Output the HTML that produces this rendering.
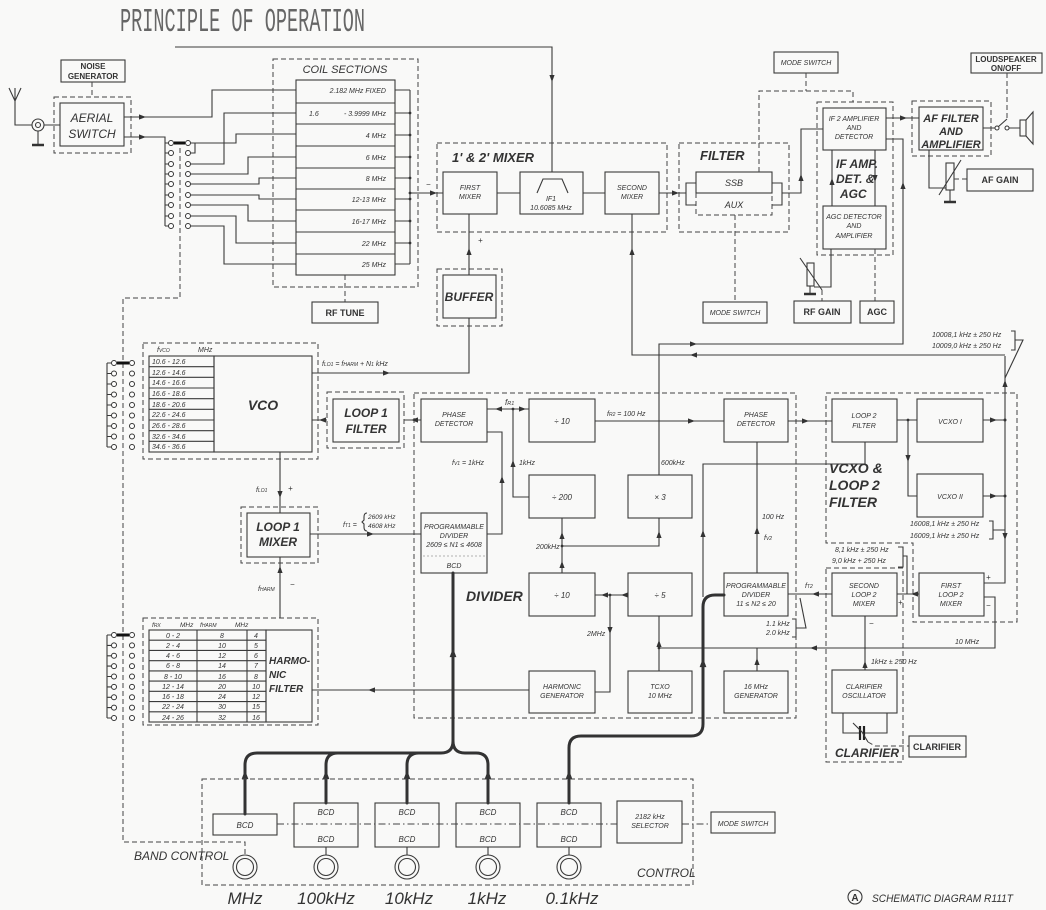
<!DOCTYPE html>
<html><head><meta charset="utf-8"><style>
html,body{margin:0;padding:0;background:#f9f9f8;}
svg{display:block}
svg text{font-family:"Liberation Sans",sans-serif;font-style:italic;fill:#333}
.s{font-size:7px}.m{font-size:8px}.c{text-anchor:middle}.B{font-weight:bold}
.l{stroke:#3a3a3a;stroke-width:1.1;fill:none}
.d{stroke:#444;stroke-width:1;fill:none;stroke-dasharray:5 3}
.dd{stroke:#444;stroke-width:1;fill:none;stroke-dasharray:7 3 1.5 3}
.k{stroke:#333;stroke-width:3;fill:none;stroke-linecap:round}
.o{fill:#fff;stroke:#333;stroke-width:1}
</style></head><body>
<svg width="1046" height="910" viewBox="0 0 1046 910" xmlns="http://www.w3.org/2000/svg">
<defs><path id="a" d="M0,0 L-7,-2.6 L-7,2.6Z" fill="#333"/></defs>

<!-- Title -->
<text x="120" y="31" style="font-family:'Liberation Mono',monospace;font-style:normal;font-size:33px;fill:#666" textLength="245" lengthAdjust="spacingAndGlyphs">PRINCIPLE OF OPERATION</text>
<path class="l" d="M175,47 H552 V172"/>
<use href="#a" transform="translate(552,82) rotate(90)"/>

<!-- Noise generator / aerial -->
<rect class="l" x="61" y="60" width="64" height="22"/>
<text class="m c B" x="93" y="69" style="font-style:normal">NOISE</text>
<text class="m c B" x="93" y="79" style="font-style:normal">GENERATOR</text>
<path class="d" d="M92,82 V97"/>
<rect class="d" x="54" y="97" width="77" height="56"/>
<rect class="l" x="60" y="103" width="64" height="43"/>
<text class="c" x="92" y="122" style="font-size:12px">AERIAL</text>
<text class="c" x="92" y="138" style="font-size:12px">SWITCH</text>
<path class="l" d="M9,88 L15,101 L21,88 M15,88 V125 H32 M44,125 H60"/>
<circle class="l" cx="38" cy="125" r="6"/><circle class="l" cx="38" cy="125" r="2.5"/>
<path class="l" d="M38,131 V145"/><path d="M32,145 H44" stroke="#333" stroke-width="2.5"/>

<path class="l" d="M124,117 H212 V90 H296"/><use href="#a" transform="translate(146,117)"/>
<path class="l" d="M124,137 H165 V226"/><use href="#a" transform="translate(146,137)"/>

<!-- top switch -->
<g>
<path class="l" d="M165,143 H168 M165,153 H168 M165,164 H168 M165,174 H168 M165,184 H168 M165,195 H168 M165,205 H168 M165,216 H168 M165,226 H168"/>
<path d="M174,143 H185" stroke="#111" stroke-width="3"/>
<path class="d" d="M180,148 V298 H123 V842 H245 V855"/>
<g class="o">
<circle cx="171" cy="143" r="2.5"/><circle cx="171" cy="153" r="2.5"/><circle cx="171" cy="164" r="2.5"/><circle cx="171" cy="174" r="2.5"/><circle cx="171" cy="184" r="2.5"/><circle cx="171" cy="195" r="2.5"/><circle cx="171" cy="205" r="2.5"/><circle cx="171" cy="216" r="2.5"/><circle cx="171" cy="226" r="2.5"/>
<circle cx="188" cy="143" r="2.5"/><circle cx="188" cy="153" r="2.5"/><circle cx="188" cy="164" r="2.5"/><circle cx="188" cy="174" r="2.5"/><circle cx="188" cy="184" r="2.5"/><circle cx="188" cy="195" r="2.5"/><circle cx="188" cy="205" r="2.5"/><circle cx="188" cy="216" r="2.5"/><circle cx="188" cy="226" r="2.5"/>
</g>
<path class="l" d="M191,143 H195 V153 H191 M195,143 H236 V134 H296
M191,164 H224 V113 H296
M191,174 H248 V157 H296
M191,184 H259 V178 H296
M191,195 H259 V199 H296
M191,205 H248 V221 H296
M191,216 H236 V243 H296
M191,226 H224 V264 H296"/>
</g>

<!-- Coil sections -->
<rect class="d" x="273" y="59" width="145" height="228"/>
<text class="c" x="345" y="73" style="font-size:11px">COIL SECTIONS</text>
<rect class="l" x="296" y="80" width="99" height="195"/>
<path class="l" d="M296,103 H395 M296,124 H395 M296,146 H395 M296,168 H395 M296,189 H395 M296,210 H395 M296,232 H395 M296,254 H395"/>
<g class="s" style="text-anchor:end">
<text x="386" y="93">2.182  MHz  FIXED</text>
<text x="386" y="116">- 3.9999 MHz</text>
<text x="386" y="138">4  MHz</text>
<text x="386" y="160">6  MHz</text>
<text x="386" y="181">8  MHz</text>
<text x="386" y="202">12-13  MHz</text>
<text x="386" y="224">16-17  MHz</text>
<text x="386" y="246">22  MHz</text>
<text x="386" y="267">25  MHz</text>
</g>
<text class="s" x="309" y="116">1.6</text>
<path class="l" d="M395,90 H410 M395,113 H410 M395,135 H410 M395,157 H410 M395,178 H410 M395,199 H410 M395,221 H410 M395,243 H410 M395,264 H410 M410,90 V264 M410,193 H443"/>
<g fill="#333"><circle cx="410" cy="113" r="1.4"/><circle cx="410" cy="135" r="1.4"/><circle cx="410" cy="157" r="1.4"/><circle cx="410" cy="178" r="1.4"/><circle cx="410" cy="193" r="1.4"/><circle cx="410" cy="199" r="1.4"/><circle cx="410" cy="221" r="1.4"/><circle cx="410" cy="243" r="1.4"/></g>
<use href="#a" transform="translate(437,193)"/>
<text class="m" x="426" y="187">−</text>
<path class="d" d="M345,275 V302"/>
<rect class="l" x="312" y="302" width="66" height="21"/>
<text class="c B" x="345" y="316" style="font-size:9px;font-style:normal">RF TUNE</text>

<!-- Mixer -->
<rect class="d" x="437" y="143" width="230" height="89"/>
<text class="B" x="452" y="162" style="font-size:13px">1' &amp; 2' MIXER</text>
<rect class="l" x="443" y="172" width="54" height="42"/>
<text class="s c" x="470" y="190">FIRST</text><text class="s c" x="470" y="199">MIXER</text>
<path class="l" d="M497,193 H520"/>
<rect class="l" x="520" y="172" width="63" height="42"/>
<path class="l" d="M537,193 L543,179 H562 L568,193"/>
<text class="s c" x="551" y="201">IF1</text><text class="s c" x="551" y="210">10.6085 MHz</text>
<path class="l" d="M583,193 H605"/>
<rect class="l" x="605" y="172" width="54" height="42"/>
<text class="s c" x="632" y="190">SECOND</text><text class="s c" x="632" y="199">MIXER</text>
<path class="l" d="M659,193 H686"/><use href="#a" transform="translate(679,193)"/>

<!-- Buffer -->
<rect class="d" x="437" y="269" width="65" height="57"/>
<rect class="l" x="443" y="275" width="53" height="43"/>
<text class="c B" x="469" y="301" style="font-size:12px">BUFFER</text>
<path class="l" d="M469,275 V214"/><use href="#a" transform="translate(469,248) rotate(-90)"/>
<text class="m" x="478" y="243">+</text>
<path class="l" d="M469,318 V373 H312"/><use href="#a" transform="translate(390,373)"/>
<text class="s" x="322" y="366">f<tspan font-size="5">LO1</tspan> = f<tspan font-size="5">HARM</tspan> + N<tspan font-size="5">1</tspan> kHz</text>

<path class="l" d="M632,214 V355 H1005"/>
<use href="#a" transform="translate(632,248) rotate(-90)"/>
<use href="#a" transform="translate(690,355) rotate(180)"/>
<path class="l" d="M659,475 V344 H903 V139 H886"/>
<use href="#a" transform="translate(697,344)"/>
<use href="#a" transform="translate(903,182) rotate(-90)"/>

<!-- Filter -->
<rect class="d" x="679" y="143" width="110" height="89"/>
<text class="B" x="700" y="160" style="font-size:13px">FILTER</text>
<rect class="l" x="696" y="172" width="76" height="21"/>
<text class="c" x="734" y="186" style="font-size:9px">SSB</text>
<path class="d" d="M696,193 V215 H772 V193"/>
<text class="c" x="734" y="208" style="font-size:9px">AUX</text>
<path class="l" d="M696,183 H686 V205 H696 M772,183 H782 V205 H772 M782,193 H801 V129 H823"/>
<use href="#a" transform="translate(801,174) rotate(-90)"/>
<path class="d" d="M735,215 V302"/>
<rect class="l" x="703" y="302" width="64" height="21"/>
<text class="s c" x="735" y="315">MODE SWITCH</text>

<!-- top mode switch -->
<rect class="l" x="774" y="52" width="64" height="21"/>
<text class="s c" x="806" y="65">MODE SWITCH</text>
<path class="d" d="M806,73 V91 M759,172 V91 H853 V102"/>

<!-- IF AMP -->
<rect class="d" x="817" y="102" width="76" height="153"/>
<rect class="l" x="823" y="108" width="63" height="42"/>
<text class="s c" x="854" y="121">IF 2 AMPLIFIER</text><text class="s c" x="854" y="130">AND</text><text class="s c" x="854" y="139">DETECTOR</text>
<rect class="l" x="823" y="206" width="63" height="43"/>
<text class="s c" x="854" y="219">AGC DETECTOR</text><text class="s c" x="854" y="228">AND</text><text class="s c" x="854" y="238">AMPLIFIER</text>
<path class="l" d="M832,206 V150 M875,150 V206"/>
<use href="#a" transform="translate(832,178) rotate(-90)"/>
<use href="#a" transform="translate(875,182) rotate(90)"/>
<text class="B" x="836" y="168" style="font-size:12px">IF AMP.</text>
<text class="B" x="836" y="183" style="font-size:12px">DET. &amp;</text>
<text class="B" x="840" y="198" style="font-size:12px">AGC</text>

<!-- AF filter -->
<path class="l" d="M886,118 H919"/><use href="#a" transform="translate(907,118)"/>
<rect class="d" x="912" y="101" width="79" height="55"/>
<rect class="l" x="919" y="107" width="64" height="43"/>
<text class="c B" x="951" y="122" style="font-size:11px">AF FILTER</text>
<text class="c B" x="951" y="135" style="font-size:11px">AND</text>
<text class="c B" x="951" y="148" style="font-size:11px">AMPLIFIER</text>
<path class="l" d="M983,128 H995 M1009,128 H1020 M998,127 L1007,119"/>
<circle class="o" cx="997" cy="128" r="2"/><circle class="o" cx="1007" cy="128" r="2"/>
<rect class="l" x="1020" y="120" width="6" height="16"/>
<path class="l" d="M1026,120 L1033,112 V144 L1026,136"/>
<rect class="l" x="971" y="53" width="71" height="20"/>
<text class="c B" x="1006" y="62" style="font-size:8px;font-style:normal">LOUDSPEAKER</text>
<text class="c B" x="1006" y="71" style="font-size:8px;font-style:normal">ON/OFF</text>
<path class="d" d="M1007,73 V120"/>
<path class="l" d="M929,150 V188 H946"/>
<rect class="l" x="946" y="163" width="8" height="27"/>
<path class="l" d="M939,195 L961,160 M950,190 V201"/>
<path d="M944,202 H956" stroke="#333" stroke-width="2.5"/>
<path class="d" d="M954,179 H967"/>
<rect class="l" x="967" y="169" width="66" height="22"/>
<text class="c B" x="1000" y="183" style="font-size:9px;font-style:normal">AF GAIN</text>

<!-- RF gain / AGC -->
<path class="l" d="M831,249 V287 H814"/>
<rect class="l" x="807" y="263" width="7" height="23"/>
<path class="l" d="M800,258 L822,290 M810,286 V293"/>
<path d="M804,294 H816" stroke="#333" stroke-width="2.5"/>
<path class="d" d="M822,290 V301 M875,249 V301"/>
<rect class="l" x="794" y="301" width="57" height="22"/>
<text class="c B" x="822" y="315" style="font-size:9px;font-style:normal">RF GAIN</text>
<rect class="l" x="860" y="301" width="34" height="22"/>
<text class="c B" x="877" y="315" style="font-size:9px;font-style:normal">AGC</text>

<!-- right column -->
<text class="s" x="932" y="337">10008,1 kHz ± 250 Hz</text>
<text class="s" x="932" y="348">10009,0 kHz ± 250 Hz</text>
<path class="l" d="M1011,331 H1015 V350 H1011 M1015,340 H1023 L1005,378"/>
<path class="l" d="M1005,356 V583 H984"/>
<use href="#a" transform="translate(1005,380) rotate(-90)"/>
<use href="#a" transform="translate(1005,540) rotate(90)"/>
<g fill="#333"><circle cx="1005" cy="420" r="1.5"/><circle cx="1005" cy="496" r="1.5"/></g>

<path class="d" d="M826,393 H1017 V622 H913 V543 H826 Z"/>
<rect class="l" x="832" y="399" width="65" height="43"/>
<text class="s c" x="864" y="418">LOOP 2</text><text class="s c" x="864" y="428">FILTER</text>
<rect class="l" x="917" y="399" width="66" height="43"/>
<text class="s c" x="950" y="424">VCXO I</text>
<rect class="l" x="917" y="474" width="66" height="43"/>
<text class="s c" x="950" y="499">VCXO II</text>
<path class="l" d="M897,420 H917 M908,420 V496 H917 M983,420 H1005 M983,496 H1005"/>
<circle cx="908" cy="420" r="1.4" fill="#333"/>
<use href="#a" transform="translate(908,462) rotate(90)"/>
<use href="#a" transform="translate(997,420)"/>
<use href="#a" transform="translate(997,496)"/>
<path class="l" d="M865,442 V464 H703 V597"/>
<use href="#a" transform="translate(703,530) rotate(-90)"/>
<text class="B" x="829" y="473" style="font-size:14px">VCXO &amp;</text>
<text class="B" x="829" y="490" style="font-size:14px">LOOP 2</text>
<text class="B" x="829" y="507" style="font-size:14px">FILTER</text>
<text class="s" x="910" y="526">16008,1 kHz ± 250 Hz</text>
<text class="s" x="910" y="538">16009,1 kHz ± 250 Hz</text>
<path class="l" d="M989,521 H993 V539 H989 M993,530 H1005"/>
<text class="s" x="835" y="552">8,1 kHz ± 250 Hz</text>
<text class="s" x="832" y="563">9,0 kHz + 250 Hz</text>
<path class="l" d="M898,547 H903 V567 H898 M903,556 H907 V594"/>

<rect class="d" x="826" y="568" width="77" height="194"/>
<rect class="l" x="832" y="573" width="65" height="43"/>
<text class="s c" x="864" y="588">SECOND</text><text class="s c" x="864" y="597">LOOP 2</text><text class="s c" x="864" y="606">MIXER</text>
<rect class="l" x="919" y="573" width="65" height="43"/>
<text class="s c" x="951" y="588">FIRST</text><text class="s c" x="951" y="597">LOOP 2</text><text class="s c" x="951" y="606">MIXER</text>
<path class="l" d="M919,594 H897"/><use href="#a" transform="translate(911,594) rotate(180)"/>
<text class="m" x="898" y="605">+</text>
<text class="m" x="986" y="580">+</text>
<text class="m" x="986" y="608">−</text>
<path class="l" d="M984,597 H995 V648 H659"/>
<use href="#a" transform="translate(810,648) rotate(180)"/>
<text class="s" x="955" y="644">10 MHz</text>
<path class="l" d="M832,594 H788"/><use href="#a" transform="translate(812,594) rotate(180)"/>
<text class="s" x="805" y="588">f<tspan font-size="5">T2</tspan></text>
<text class="s" x="766" y="626">1.1 kHz</text><text class="s" x="766" y="635">2.0 kHz</text>
<path class="l" d="M792,619 H796 V637 H792 M796,628 H806 L800,598"/>
<path class="l" d="M865,616 V670"/><use href="#a" transform="translate(865,661) rotate(-90)"/>
<text class="m" x="869" y="626">−</text>
<text class="s" x="871" y="664">1kHz ± 250 Hz</text>
<rect class="l" x="832" y="670" width="65" height="43"/>
<text class="s c" x="864" y="689">CLARIFIER</text><text class="s c" x="864" y="698">OSCILLATOR</text>
<path class="l" d="M843,713 V733 H859 M864,733 H887 V713"/>
<path d="M860,726 V740 M864,726 V740" stroke="#222" stroke-width="2.2"/>
<path class="l" d="M853,723 L862,732 L868,742"/>
<path class="d" d="M868,742 L875,746 H909"/>
<text class="B" x="835" y="757" style="font-size:12px">CLARIFIER</text>
<rect class="l" x="909" y="736" width="57" height="21"/>
<text class="c B" x="937" y="750" style="font-size:9px;font-style:normal">CLARIFIER</text>

<!-- Divider -->
<rect class="d" x="414" y="393" width="382" height="325"/>
<text class="B" x="466" y="601" style="font-size:14px">DIVIDER</text>
<rect class="l" x="421" y="399" width="66" height="43"/>
<text class="s c" x="454" y="417">PHASE</text><text class="s c" x="454" y="426">DETECTOR</text>
<rect class="l" x="529" y="399" width="66" height="43"/>
<text class="m c" x="562" y="424">÷ 10</text>
<rect class="l" x="724" y="399" width="64" height="43"/>
<text class="s c" x="756" y="417">PHASE</text><text class="s c" x="756" y="426">DETECTOR</text>
<rect class="l" x="529" y="475" width="66" height="43"/>
<text class="m c" x="562" y="500">÷ 200</text>
<rect class="l" x="628" y="475" width="64" height="43"/>
<text class="m c" x="660" y="500">× 3</text>
<rect class="l" x="421" y="513" width="66" height="60"/>
<text class="s c" x="454" y="529">PROGRAMMABLE</text><text class="s c" x="454" y="538">DIVIDER</text><text class="s c" x="454" y="547">2609 ≤ N1 ≤ 4608</text>
<path d="M423,556 H485" stroke="#999" stroke-width="0.7" stroke-dasharray="2 2"/>
<text class="s c" x="454" y="568">BCD</text>
<rect class="l" x="529" y="573" width="66" height="43"/>
<text class="m c" x="562" y="598">÷ 10</text>
<rect class="l" x="628" y="573" width="64" height="43"/>
<text class="m c" x="660" y="598">÷ 5</text>
<rect class="l" x="724" y="573" width="64" height="43"/>
<text class="s c" x="756" y="588">PROGRAMMABLE</text><text class="s c" x="756" y="597">DIVIDER</text><text class="s c" x="756" y="606">11 ≤ N2 ≤ 20</text>
<rect class="l" x="529" y="671" width="66" height="42"/>
<text class="s c" x="562" y="689">HARMONIC</text><text class="s c" x="562" y="698">GENERATOR</text>
<rect class="l" x="628" y="671" width="64" height="42"/>
<text class="s c" x="660" y="689">TCXO</text><text class="s c" x="660" y="698">10 MHz</text>
<rect class="l" x="724" y="671" width="64" height="42"/>
<text class="s c" x="756" y="689">16 MHz</text><text class="s c" x="756" y="698">GENERATOR</text>

<path class="l" d="M404,420 H421 M327,420 H312"/>
<use href="#a" transform="translate(411,420) rotate(180)"/>
<use href="#a" transform="translate(319,420) rotate(180)"/>
<path class="l" d="M487,409 H529 M513,409 V497 H529"/>
<use href="#a" transform="translate(495,409) rotate(180)"/>
<use href="#a" transform="translate(526,409)"/>
<use href="#a" transform="translate(513,460) rotate(-90)"/>
<circle cx="513" cy="409" r="1.4" fill="#333"/>
<text class="m" x="505" y="405">f<tspan font-size="5.5">R1</tspan></text>
<text class="s" x="519" y="465">1kHz</text>
<path class="l" d="M487,432 H502 V534 H487"/>
<use href="#a" transform="translate(502,476) rotate(-90)"/>
<text class="s" x="452" y="465">f<tspan font-size="5">V1</tspan> = 1kHz</text>
<path class="l" d="M595,421 H724"/><use href="#a" transform="translate(695,421)"/>
<text class="s" x="607" y="416">f<tspan font-size="5">R2</tspan> = 100 Hz</text>
<text class="s" x="661" y="465">600kHz</text>
<path class="l" d="M788,421 H832"/><use href="#a" transform="translate(809,421)"/>
<path class="l" d="M757,442 V573"/><use href="#a" transform="translate(757,527) rotate(-90)"/>
<text class="s" x="762" y="519">100 Hz</text><text class="s" x="764" y="540">f<tspan font-size="5">V2</tspan></text>
<path class="l" d="M562,518 V573 M562,546 H659 V518"/>
<use href="#a" transform="translate(562,532) rotate(-90)"/>
<use href="#a" transform="translate(562,561) rotate(-90)"/>
<use href="#a" transform="translate(659,531) rotate(-90)"/>
<circle cx="562" cy="546" r="1.4" fill="#333"/>
<text class="s" x="536" y="549">200kHz</text>
<path class="l" d="M628,595 H595 M610,595 V692 H595"/>
<use href="#a" transform="translate(601,595) rotate(180)"/>
<use href="#a" transform="translate(621,595) rotate(180)"/>
<use href="#a" transform="translate(610,634) rotate(90)"/>
<circle cx="610" cy="595" r="1.4" fill="#333"/>
<text class="s" x="587" y="636">2MHz</text>
<path class="l" d="M659,671 V616 M757,671 V648"/>
<use href="#a" transform="translate(659,640) rotate(-90)"/>
<use href="#a" transform="translate(757,658) rotate(-90)"/>
<circle cx="659" cy="648" r="1.4" fill="#333"/>
<path class="l" d="M529,690 H312"/><use href="#a" transform="translate(368,690) rotate(180)"/>
<path class="l" d="M310,534 H421"/><use href="#a" transform="translate(374,534)"/>

<!-- VCO -->
<rect class="d" x="143" y="343" width="175" height="116"/>
<text class="s" x="157" y="352">f<tspan font-size="5">VCO</tspan></text><text class="s" x="198" y="352">MHz</text>
<rect class="l" x="149" y="356" width="65" height="96"/>
<path class="l" d="M149,366.7 H214 M149,377.3 H214 M149,388 H214 M149,398.7 H214 M149,409.3 H214 M149,420 H214 M149,430.7 H214 M149,441.3 H214"/>
<g class="s">
<text x="152" y="364">10.6  -  12.6</text>
<text x="152" y="375">12.6  -  14.6</text>
<text x="152" y="385">14.6  -  16.6</text>
<text x="152" y="396">16.6  -  18.6</text>
<text x="152" y="407">18.6  -  20.6</text>
<text x="152" y="417">22.6  -  24.6</text>
<text x="152" y="428">26.6  -  28.6</text>
<text x="152" y="439">32.6  -  34.6</text>
<text x="152" y="449">34.6  -  36.6</text>
</g>
<rect class="l" x="214" y="356" width="98" height="96"/>
<text class="c B" x="263" y="410" style="font-size:14px">VCO</text>

<rect class="d" x="327" y="392" width="77" height="56"/>
<rect class="l" x="333" y="399" width="66" height="43"/>
<text class="c B" x="366" y="417" style="font-size:12px">LOOP 1</text>
<text class="c B" x="366" y="433" style="font-size:12px">FILTER</text>

<path class="l" d="M280,452 V513"/><use href="#a" transform="translate(280,498) rotate(90)"/>
<text class="s" x="256" y="492">f<tspan font-size="5">LO1</tspan></text><text class="m" x="288" y="491">+</text>
<rect class="d" x="241" y="507" width="77" height="56"/>
<rect class="l" x="247" y="513" width="63" height="44"/>
<text class="c B" x="278" y="531" style="font-size:12px">LOOP 1</text>
<text class="c B" x="278" y="546" style="font-size:12px">MIXER</text>
<text class="s" x="343" y="527">f<tspan font-size="5">T1</tspan> =</text>
<path class="l" d="M367,513 Q364,513 364,517 V520 L362,522 L364,524 V527 Q364,531 367,531" stroke-width="0.8"/>
<text x="368" y="519" style="font-size:6.5px">2609 kHz</text>
<text x="368" y="528" style="font-size:6.5px">4608 kHz</text>
<path class="l" d="M280,557 V618"/><use href="#a" transform="translate(280,566) rotate(-90)"/>
<text class="s" x="258" y="591">f<tspan font-size="5">HARM</tspan></text><text class="m" x="290" y="587">−</text>

<!-- Harmonic filter -->
<rect class="d" x="143" y="618" width="175" height="107"/>
<g style="font-size:6.5px"><text x="152" y="627">f<tspan font-size="5">RX</tspan></text><text x="180" y="627">MHz</text><text x="200" y="627">f<tspan font-size="5">HARM</tspan></text><text x="235" y="627">MHz</text></g>
<rect class="l" x="149" y="630" width="117" height="92"/>
<path class="l" d="M197,630 V722 M247,630 V722 M149,640.2 H266 M149,650.4 H266 M149,660.7 H266 M149,670.9 H266 M149,681.1 H266 M149,691.3 H266 M149,701.6 H266 M149,711.8 H266"/>
<g class="s c">
<text x="173" y="638">0 - 2</text><text x="222" y="638">8</text><text x="256" y="638">4</text>
<text x="173" y="648">2 - 4</text><text x="222" y="648">10</text><text x="256" y="648">5</text>
<text x="173" y="658">4 - 6</text><text x="222" y="658">12</text><text x="256" y="658">6</text>
<text x="173" y="668">6 - 8</text><text x="222" y="668">14</text><text x="256" y="668">7</text>
<text x="173" y="679">8 - 10</text><text x="222" y="679">16</text><text x="256" y="679">8</text>
<text x="173" y="689">12 - 14</text><text x="222" y="689">20</text><text x="256" y="689">10</text>
<text x="173" y="699">16 - 18</text><text x="222" y="699">24</text><text x="256" y="699">12</text>
<text x="173" y="709">22 - 24</text><text x="222" y="709">30</text><text x="256" y="709">15</text>
<text x="173" y="720">24 - 26</text><text x="222" y="720">32</text><text x="256" y="720">16</text>
</g>
<rect class="l" x="266" y="630" width="46" height="92"/>
<text class="B" x="269" y="664" style="font-size:10px">HARMO-</text>
<text class="B" x="269" y="678" style="font-size:10px">NIC</text>
<text class="B" x="269" y="692" style="font-size:10px">FILTER</text>

<!-- left switches -->
<path class="l" d="M107,363 V447 M107,363 H111 M107,373.5 H111 M107,384 H111 M107,394.5 H111 M107,405 H111 M107,415.5 H111 M107,426 H111 M107,436.5 H111 M107,447 H111"/>
<path class="l" d="M107,635 V718 M107,635 H111 M107,645.4 H111 M107,655.8 H111 M107,666.1 H111 M107,676.5 H111 M107,686.9 H111 M107,697.3 H111 M107,707.6 H111 M107,718 H111"/>
<path d="M117,363 H129 M117,635 H129" stroke="#111" stroke-width="3"/>
<g class="o">
<circle cx="114" cy="363" r="2.5"/><circle cx="114" cy="373.5" r="2.5"/><circle cx="114" cy="384" r="2.5"/><circle cx="114" cy="394.5" r="2.5"/><circle cx="114" cy="405" r="2.5"/><circle cx="114" cy="415.5" r="2.5"/><circle cx="114" cy="426" r="2.5"/><circle cx="114" cy="436.5" r="2.5"/><circle cx="114" cy="447" r="2.5"/>
<circle cx="132" cy="363" r="2.5"/><circle cx="132" cy="373.5" r="2.5"/><circle cx="132" cy="384" r="2.5"/><circle cx="132" cy="394.5" r="2.5"/><circle cx="132" cy="405" r="2.5"/><circle cx="132" cy="415.5" r="2.5"/><circle cx="132" cy="426" r="2.5"/><circle cx="132" cy="436.5" r="2.5"/><circle cx="132" cy="447" r="2.5"/>
<circle cx="114" cy="635" r="2.5"/><circle cx="114" cy="645.4" r="2.5"/><circle cx="114" cy="655.8" r="2.5"/><circle cx="114" cy="666.1" r="2.5"/><circle cx="114" cy="676.5" r="2.5"/><circle cx="114" cy="686.9" r="2.5"/><circle cx="114" cy="697.3" r="2.5"/><circle cx="114" cy="707.6" r="2.5"/><circle cx="114" cy="718" r="2.5"/>
<circle cx="132" cy="635" r="2.5"/><circle cx="132" cy="645.4" r="2.5"/><circle cx="132" cy="655.8" r="2.5"/><circle cx="132" cy="666.1" r="2.5"/><circle cx="132" cy="676.5" r="2.5"/><circle cx="132" cy="686.9" r="2.5"/><circle cx="132" cy="697.3" r="2.5"/><circle cx="132" cy="707.6" r="2.5"/><circle cx="132" cy="718" r="2.5"/>
</g>

<!-- Thick BCD buses -->
<path class="k" d="M245,814 V765 Q245,753 257,753 H441 Q453,753 453,741 V573"/>
<path class="k" d="M488,803 V765 Q488,753 476,753 H465 Q453,753 453,741"/>
<path class="k" d="M326,803 V765 Q326,753 338,753"/>
<path class="k" d="M407,803 V765 Q407,753 419,753"/>
<path class="k" d="M569,803 V748 Q569,736 581,736 H691 Q703,736 703,724 V607 Q703,595 715,595 H724"/>
<use href="#a" transform="translate(245,770) rotate(-90) scale(1.3)"/>
<use href="#a" transform="translate(326,770) rotate(-90) scale(1.3)"/>
<use href="#a" transform="translate(407,770) rotate(-90) scale(1.3)"/>
<use href="#a" transform="translate(488,770) rotate(-90) scale(1.3)"/>
<use href="#a" transform="translate(569,770) rotate(-90) scale(1.3)"/>
<use href="#a" transform="translate(453,648) rotate(-90) scale(1.3)"/>
<use href="#a" transform="translate(703,658) rotate(-90) scale(1.3)"/>

<!-- Control -->
<rect class="d" x="202" y="779" width="491" height="106"/>
<rect class="l" x="213" y="814" width="64" height="21"/>
<text class="m c" x="245" y="828">BCD</text>
<rect class="l" x="294" y="803" width="64" height="44"/>
<rect class="l" x="375" y="803" width="64" height="44"/>
<rect class="l" x="456" y="803" width="64" height="44"/>
<rect class="l" x="537" y="803" width="64" height="44"/>
<g class="m c">
<text x="326" y="815">BCD</text><text x="326" y="842">BCD</text>
<text x="407" y="815">BCD</text><text x="407" y="842">BCD</text>
<text x="488" y="815">BCD</text><text x="488" y="842">BCD</text>
<text x="569" y="815">BCD</text><text x="569" y="842">BCD</text>
</g>
<path class="dd" d="M277,824 H617 M682,824 H711"/>
<rect class="l" x="617" y="801" width="65" height="42"/>
<text class="s c" x="650" y="819">2182 kHz</text><text class="s c" x="650" y="828">SELECTOR</text>
<rect class="l" x="711" y="812" width="64" height="21"/>
<text class="s c" x="743" y="826">MODE SWITCH</text>
<path class="l" d="M326,847 V855 M407,847 V855 M488,847 V855 M569,847 V855"/>
<g class="l">
<circle cx="245" cy="867" r="12"/><circle cx="245" cy="867" r="8.5"/>
<circle cx="326" cy="867" r="12"/><circle cx="326" cy="867" r="8.5"/>
<circle cx="407" cy="867" r="12"/><circle cx="407" cy="867" r="8.5"/>
<circle cx="488" cy="867" r="12"/><circle cx="488" cy="867" r="8.5"/>
<circle cx="569" cy="867" r="12"/><circle cx="569" cy="867" r="8.5"/>
</g>
<text x="134" y="860" style="font-size:12px">BAND CONTROL</text>
<text x="637" y="877" style="font-size:12px">CONTROL</text>
<g class="c" style="font-size:17px">
<text x="245" y="904">MHz</text>
<text x="326" y="904">100kHz</text>
<text x="409" y="904">10kHz</text>
<text x="487" y="904">1kHz</text>
<text x="572" y="904">0.1kHz</text>
</g>
<circle class="l" cx="855" cy="897" r="7"/>
<text class="c" x="855" y="901" style="font-size:10px;font-style:normal;font-weight:bold">A</text>
<text x="872" y="902" style="font-size:11px" textLength="141" lengthAdjust="spacingAndGlyphs">SCHEMATIC DIAGRAM R111T</text>
</svg>
</body></html>
